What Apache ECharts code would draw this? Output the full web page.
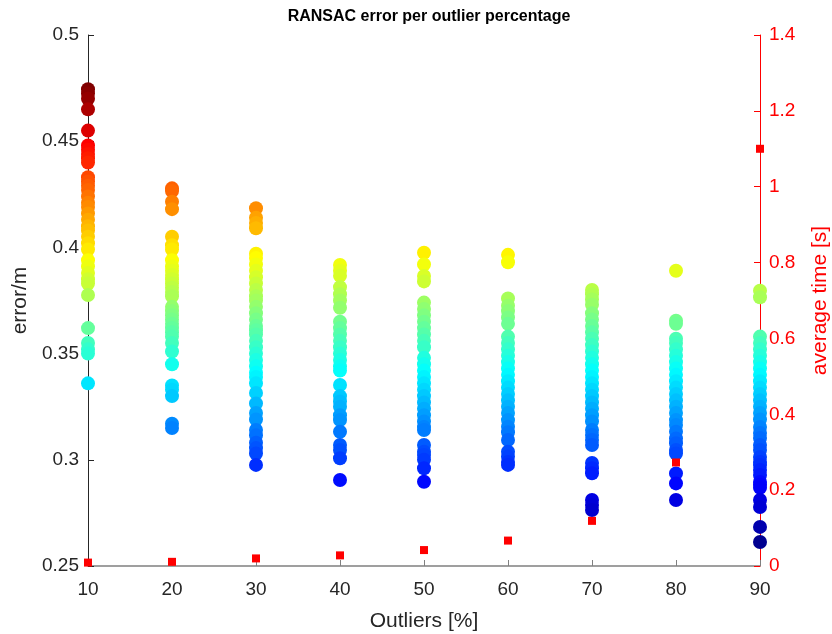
<!DOCTYPE html>
<html>
<head>
<meta charset="utf-8">
<script src="https://cdn.jsdelivr.net/npm/echarts@6/dist/echarts.min.js"></script>
<style>
  html, body { margin: 0; padding: 0; background: #fff; }
  #chart { width: 832px; height: 634px; }
</style>
</head>
<body>
<div id="chart"></div>
<script>
// Outlier percentages on the x axis
const outlierPct = [10, 20, 30, 40, 50, 60, 70, 80, 90];

// RANSAC error (m) of every run, one list per outlier percentage
const err10 = [0.4745, 0.4725, 0.470, 0.465, 0.455, 0.448, 0.446, 0.444, 0.442, 0.440, 0.433, 0.431, 0.429, 0.427, 0.424, 0.421, 0.419, 0.416, 0.413, 0.410, 0.408, 0.405, 0.402, 0.399, 0.394, 0.391, 0.388, 0.385, 0.383, 0.3776, 0.362, 0.355, 0.352, 0.350, 0.336];
const err20 = [0.4278, 0.4265, 0.4215, 0.418, 0.405, 0.401, 0.399, 0.394, 0.391, 0.389, 0.387, 0.385, 0.383, 0.381, 0.379, 0.377, 0.372, 0.370, 0.368, 0.366, 0.364, 0.362, 0.360, 0.358, 0.355, 0.351, 0.345, 0.335, 0.333, 0.330, 0.317, 0.315];
const err30 = [0.4184, 0.414, 0.4115, 0.409, 0.397, 0.395, 0.392, 0.389, 0.386, 0.383, 0.380, 0.377, 0.375, 0.372, 0.369, 0.366, 0.363, 0.361, 0.359, 0.356, 0.353, 0.350, 0.347, 0.344, 0.341, 0.339, 0.336, 0.3315, 0.3265, 0.322, 0.319, 0.314, 0.3115, 0.308, 0.3055, 0.303, 0.2976];
const err40 = [0.3917, 0.389, 0.3866, 0.3813, 0.378, 0.375, 0.3716, 0.365, 0.362, 0.359, 0.356, 0.353, 0.350, 0.347, 0.344, 0.342, 0.3352, 0.330, 0.3275, 0.325, 0.321, 0.3187, 0.3132, 0.307, 0.3046, 0.3007, 0.2905];
const err50 = [0.3975, 0.392, 0.3865, 0.384, 0.374, 0.371, 0.368, 0.365, 0.362, 0.359, 0.356, 0.353, 0.348, 0.345, 0.342, 0.339, 0.336, 0.333, 0.330, 0.327, 0.324, 0.321, 0.318, 0.3154, 0.314, 0.307, 0.3038, 0.3023, 0.300, 0.296, 0.2897];
const err60 = [0.3965, 0.393, 0.376, 0.3725, 0.370, 0.367, 0.364, 0.358, 0.355, 0.352, 0.349, 0.346, 0.343, 0.340, 0.337, 0.334, 0.331, 0.328, 0.325, 0.322, 0.3187, 0.3156, 0.313, 0.3093, 0.3038, 0.3015, 0.299, 0.2976];
const err70 = [0.380, 0.378, 0.3755, 0.373, 0.369, 0.366, 0.363, 0.360, 0.357, 0.354, 0.351, 0.348, 0.345, 0.342, 0.339, 0.336, 0.333, 0.330, 0.327, 0.324, 0.321, 0.318, 0.314, 0.3117, 0.3093, 0.307, 0.2985, 0.296, 0.2937, 0.2811, 0.2787, 0.2764];
const err80 = [0.389, 0.3655, 0.364, 0.357, 0.355, 0.352, 0.349, 0.346, 0.343, 0.340, 0.337, 0.334, 0.331, 0.328, 0.325, 0.322, 0.3187, 0.3164, 0.3132, 0.310, 0.3078, 0.3046, 0.303, 0.2936, 0.2889, 0.2811];
const err90 = [0.3796, 0.3765, 0.358, 0.355, 0.352, 0.349, 0.346, 0.343, 0.340, 0.337, 0.334, 0.331, 0.328, 0.325, 0.322, 0.319, 0.3155, 0.3126, 0.3103, 0.307, 0.3046, 0.3013, 0.299, 0.2976, 0.2952, 0.2929, 0.2896, 0.2882, 0.2868, 0.2811, 0.2778, 0.2684, 0.2613];
const errorsByPct = [err10, err20, err30, err40, err50, err60, err70, err80, err90];

// Average run time (s) per outlier percentage
const avgTime = [0.009, 0.011, 0.020, 0.028, 0.042, 0.067, 0.119, 0.273, 1.10];

// Axis tick values
const errTicks = [0.25, 0.3, 0.35, 0.4, 0.45, 0.5];
const timeTicks = [0, 0.2, 0.4, 0.6, 0.8, 1, 1.2, 1.4];

// Jet colour map
const jet = ['#000090', '#0000ff', '#0080ff', '#00ffff', '#80ff80', '#ffff00', '#ff8000', '#ff0000', '#800000'];

const errPoints = [];
errorsByPct.forEach((list, i) => list.forEach(e => errPoints.push([outlierPct[i], e])));
const allErr = errPoints.map(p => p[1]);
const timePoints = outlierPct.map((x, i) => [x, avgTime[i]]);

const font = 'Liberation Sans, Arial, Helvetica, sans-serif';
const chart = echarts.init(document.getElementById('chart'));
chart.setOption({
  animation: false,
  backgroundColor: '#ffffff',
  textStyle: { fontFamily: font },
  title: {
    text: 'RANSAC error per outlier percentage',
    left: 424, textAlign: 'center', top: 4,
    textStyle: { fontFamily: font, fontSize: 16, fontWeight: 'bold', color: '#000' }
  },
  grid: { left: 88, right: 72, top: 35, bottom: 68, containLabel: false, outerBoundsMode: 'none' },
  visualMap: {
    show: false, type: 'continuous', seriesIndex: 0, dimension: 1,
    min: Math.min(...allErr), max: Math.max(...allErr),
    inRange: { color: jet }
  },
  xAxis: {
    type: 'value', min: outlierPct[0], max: outlierPct[outlierPct.length - 1], interval: 10,
    name: 'Outliers [%]', nameLocation: 'middle', nameGap: 45,
    nameTextStyle: { fontFamily: font, fontSize: 21, color: '#262626' },
    axisLine: { show: true, onZero: false, lineStyle: { color: '#808080', width: 1.5 } },
    axisTick: { show: true, inside: true, length: 6, lineStyle: { color: '#808080' } },
    axisLabel: { fontFamily: font, fontSize: 19, color: '#262626', margin: 14 },
    splitLine: { show: false }
  },
  yAxis: [
    {
      type: 'value', min: errTicks[0], max: errTicks[errTicks.length - 1], interval: 0.05,
      name: 'error/m', nameLocation: 'middle', nameGap: 53, nameRotate: 90,
      nameTextStyle: { fontFamily: font, fontSize: 21, color: '#262626' },
      axisLine: { show: true, lineStyle: { color: '#262626', width: 1 } },
      axisTick: { show: true, inside: true, length: 6, lineStyle: { color: '#262626' } },
      axisLabel: { fontFamily: font, fontSize: 19, color: '#262626', margin: 9 },
      splitLine: { show: false }
    },
    {
      type: 'value', min: timeTicks[0], max: timeTicks[timeTicks.length - 1], interval: 0.2,
      position: 'right',
      name: 'average time [s]', nameLocation: 'middle', nameGap: 50, nameRotate: 90,
      nameTextStyle: { fontFamily: font, fontSize: 21, color: '#ff0000' },
      axisLine: { show: true, lineStyle: { color: '#ff0000', width: 1 } },
      axisTick: { show: true, inside: true, length: 6, lineStyle: { color: '#ff0000' } },
      axisLabel: { fontFamily: font, fontSize: 19, color: '#ff0000', margin: 9 },
      splitLine: { show: false }
    }
  ],
  series: [
    {
      name: 'error', type: 'scatter', yAxisIndex: 0,
      symbol: 'circle', symbolSize: 14,
      itemStyle: { opacity: 1 },
      data: errPoints, z: 2
    },
    {
      name: 'time', type: 'scatter', yAxisIndex: 1,
      symbol: 'rect', symbolSize: 8,
      itemStyle: { color: '#ff0000', opacity: 1 },
      data: timePoints, z: 3
    }
  ]
});
</script>
</body>
</html>
